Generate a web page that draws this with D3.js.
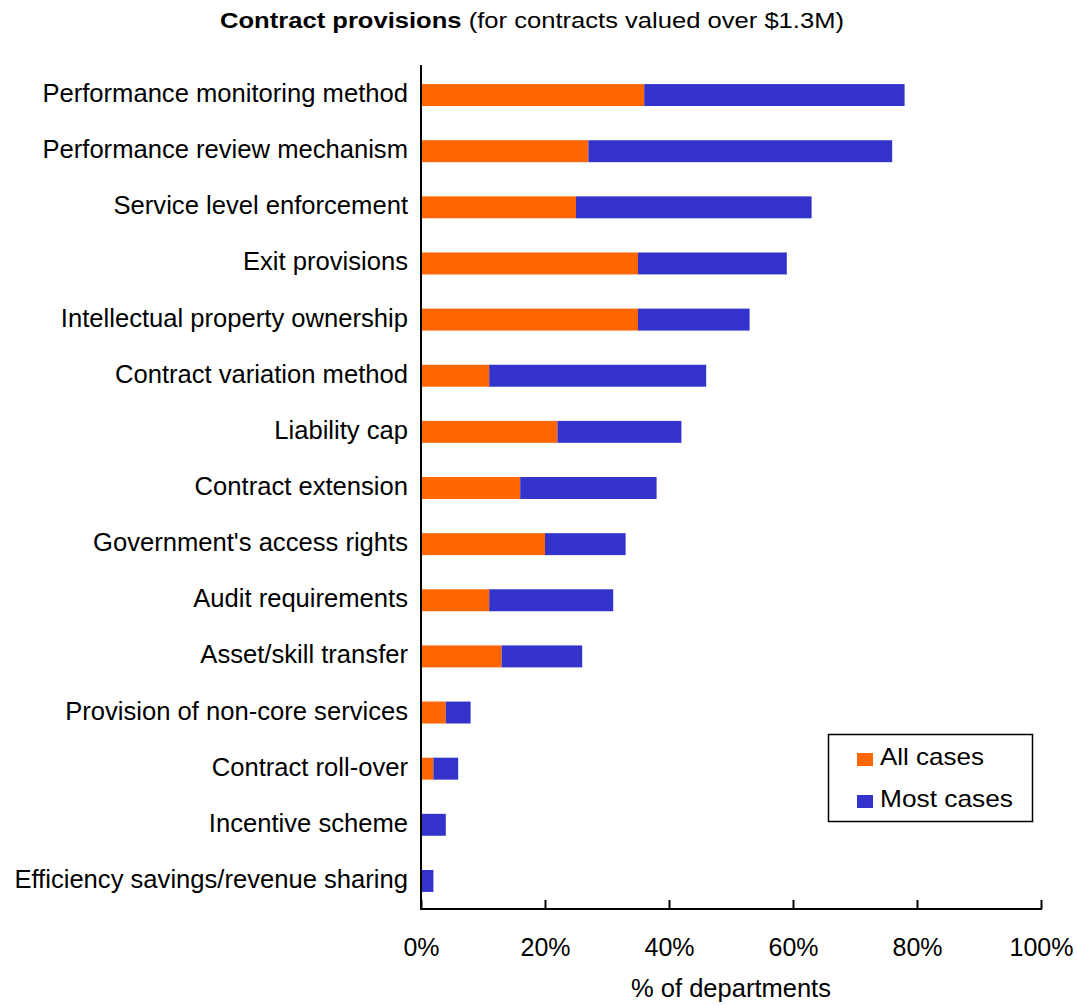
<!DOCTYPE html>
<html>
<head>
<meta charset="utf-8">
<script src="https://cdn.jsdelivr.net/npm/d3@7/dist/d3.min.js"></script>
<style>
  html, body { margin: 0; padding: 0; background: #fff; }
  svg { display: block; font-family: "Liberation Sans", Arial, sans-serif; }
</style>
</head>
<body>
<svg id="chart" width="1077" height="1005"></svg>
<script>
// Contract provisions, share of departments (%)
const categories = [
  "Performance monitoring method",
  "Performance review mechanism",
  "Service level enforcement",
  "Exit provisions",
  "Intellectual property ownership",
  "Contract variation method",
  "Liability cap",
  "Contract extension",
  "Government's access rights",
  "Audit requirements",
  "Asset/skill transfer",
  "Provision of non-core services",
  "Contract roll-over",
  "Incentive scheme",
  "Efficiency savings/revenue sharing"
];
const allCases  = [36, 27, 25, 35, 35, 11, 22, 16, 20, 11, 13, 4, 2, 0, 0];
const mostCases = [42, 49, 38, 24, 18, 35, 20, 22, 13, 20, 13, 4, 4, 4, 2];
const seriesNames = ["All cases", "Most cases"];
const tickValues = [0, 20, 40, 60, 80, 100];
const tickLabels = ["0%", "20%", "40%", "60%", "80%", "100%"];
const colors = ["#FF6600", "#3333CC"];

const svg = d3.select("#chart");

const plotLeft = 421, plotRight = 1041, plotTop = 65, plotBottom = 909;

const x = d3.scaleLinear().domain([0, 100]).range([plotLeft, plotRight]);
const y = d3.scaleBand()
  .domain(categories)
  .range([plotTop + 2, plotBottom])
  .paddingInner(0.609)
  .paddingOuter(0.3045);

// stacked rows
const rows = categories.map((c, i) => ({ cat: c, all: allCases[i], most: mostCases[i] }));
const stack = d3.stack().keys(["all", "most"]);
const layers = stack(rows);

svg.append("g").selectAll("g")
  .data(layers)
  .join("g")
  .attr("fill", (d, i) => colors[i])
  .selectAll("rect")
  .data(d => d)
  .join("rect")
  .attr("x", d => x(d[0]))
  .attr("y", d => y(d.data.cat))
  .attr("width", d => Math.max(0, x(d[1]) - x(d[0])))
  .attr("height", y.bandwidth());

// category labels
svg.append("g").selectAll("text")
  .data(categories)
  .join("text")
  .attr("x", plotLeft - 13)
  .attr("y", d => y(d) + y.bandwidth() / 2 + 7)
  .attr("text-anchor", "end")
  .attr("font-size", 25.6)
  .attr("fill", "#000")
  .text(d => d);

// vertical axis line
svg.append("line")
  .attr("x1", plotLeft).attr("x2", plotLeft)
  .attr("y1", plotTop).attr("y2", plotBottom)
  .attr("stroke", "#000").attr("stroke-width", 2);

// bottom axis with inward ticks
const xAxis = d3.axisBottom(x)
  .tickValues(tickValues)
  .tickFormat((d, i) => tickLabels[i])
  .tickSizeInner(-9)
  .tickSizeOuter(0)
  .tickPadding(29);

const gx = svg.append("g")
  .attr("transform", `translate(0,${plotBottom})`)
  .call(xAxis);
gx.select(".domain").attr("stroke", "#000").attr("stroke-width", 2)
  .attr("d", `M${plotLeft - 1},0H${plotRight + 1}`);
gx.selectAll(".tick line").attr("stroke", "#000").attr("stroke-width", 2);
gx.selectAll(".tick text")
  .attr("font-size", 25)
  .attr("font-family", "\"Liberation Sans\", Arial, sans-serif")
  .attr("fill", "#000");

// axis title
svg.append("text")
  .attr("x", (plotLeft + plotRight) / 2)
  .attr("y", 997)
  .attr("text-anchor", "middle")
  .attr("font-size", 25.5)
  .text("% of departments");

// chart title
const title = svg.append("text")
  .attr("x", 220)
  .attr("y", 28)
  .attr("font-size", 22)
  .attr("textLength", 624)
  .attr("lengthAdjust", "spacingAndGlyphs");
title.append("tspan").attr("font-weight", "bold").text("Contract provisions");
title.append("tspan").text(" (for contracts valued over $1.3M)");

// legend
const legend = svg.append("g");
legend.append("rect")
  .attr("x", 828.5).attr("y", 734.5)
  .attr("width", 204).attr("height", 87)
  .attr("fill", "#fff")
  .attr("stroke", "#000").attr("stroke-width", 1.5);

const legendLengths = [104, 133];
seriesNames.forEach((name, i) => {
  const yy = 753 + i * 42;
  legend.append("rect")
    .attr("x", 857).attr("y", yy)
    .attr("width", 16).attr("height", 13)
    .attr("fill", colors[i]);
  legend.append("text")
    .attr("x", 880).attr("y", yy + 12)
    .attr("font-size", 24)
    .attr("textLength", legendLengths[i])
    .attr("lengthAdjust", "spacingAndGlyphs")
    .text(name);
});
</script>
</body>
</html>
